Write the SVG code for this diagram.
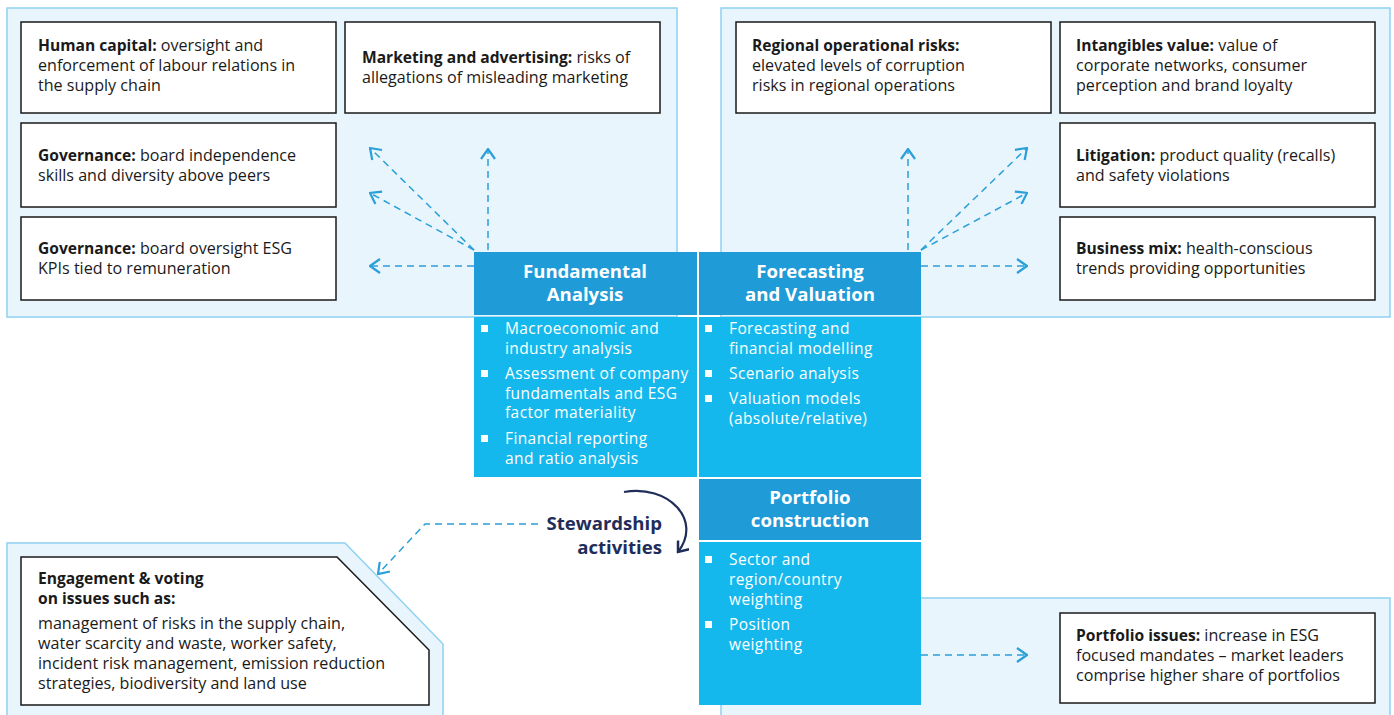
<svg xmlns="http://www.w3.org/2000/svg" width="1394" height="715" viewBox="0 0 1394 715">
<defs>
<style>
.panel{fill:#e8f5fd;stroke:#8fd1f1;stroke-width:1.5}
.box{fill:#fff;stroke:#1a1a1a;stroke-width:1.5}
.t{font-family:"Open Sans","Liberation Sans",Arial,sans-serif;font-size:16.1px;fill:#1a1a1a}
.b{font-weight:bold;font-size:15.6px}
.hd{fill:#1f9bd7}
.bd{fill:#14b8ec}
.ht{font-family:"Open Sans","Liberation Sans",Arial,sans-serif;font-size:18.6px;font-weight:bold;fill:#fff;text-anchor:middle}
.bt{font-family:"Open Sans","Liberation Sans",Arial,sans-serif;font-size:15.5px;letter-spacing:0.4px;fill:#fff}
.bul{fill:#fff}
.dash{fill:none;stroke:#2a9fd8;stroke-width:1.5;stroke-dasharray:7 5}
.st{font-family:"Open Sans","Liberation Sans",Arial,sans-serif;font-size:18.6px;font-weight:bold;fill:#1f2d5a;text-anchor:end}
</style>
<marker id="ah" viewBox="0 0 12 16" refX="11" refY="8" markerWidth="12" markerHeight="16" markerUnits="userSpaceOnUse" orient="auto">
<path d="M1 1 L11 8 L1 15" fill="none" stroke="#2a9fd8" stroke-width="2.2"/>
</marker>
<marker id="ahn" viewBox="0 0 12 16" refX="10" refY="8" markerWidth="12" markerHeight="16" markerUnits="userSpaceOnUse" orient="auto">
<path d="M1 1 L10 8 L1 15" fill="none" stroke="#1f2d5a" stroke-width="2.5"/>
</marker>
</defs>
<rect width="1394" height="715" fill="#fff"/>

<g id="panels">
<rect class="panel" x="7" y="8" width="670" height="309"/>
<rect class="panel" x="721" y="8" width="669" height="309"/>
<path class="panel" d="M7 715 L7 543 L345 543 L443 644 L443 715"/>
<path class="panel" d="M721 715 L721 598 L1390 598 L1390 715"/>
</g>

<g id="connectors">
<line class="dash" x1="488" y1="250" x2="488" y2="149" marker-end="url(#ah)"/>
<line class="dash" x1="474" y1="250" x2="370" y2="148" marker-end="url(#ah)"/>
<line class="dash" x1="474" y1="250" x2="370" y2="193" marker-end="url(#ah)"/>
<line class="dash" x1="474" y1="266" x2="370" y2="266" marker-end="url(#ah)"/>
<line class="dash" x1="908" y1="250" x2="908" y2="149" marker-end="url(#ah)"/>
<line class="dash" x1="921" y1="250" x2="1027" y2="148" marker-end="url(#ah)"/>
<line class="dash" x1="921" y1="250" x2="1027" y2="193" marker-end="url(#ah)"/>
<line class="dash" x1="921" y1="266" x2="1027" y2="266" marker-end="url(#ah)"/>
<line class="dash" x1="921" y1="655" x2="1027" y2="655" marker-end="url(#ah)"/>
<path class="dash" d="M538 524 L425 524 L378 574" marker-end="url(#ah)"/>
<path d="M624 492 C668 484 703 520 678 552" fill="none" stroke="#1f2d5a" stroke-width="2.2" marker-end="url(#ahn)"/>
</g>

<g id="human-capital">
<rect class="box" x="21" y="22" width="315" height="91"/>
<text class="t" x="38" y="51"><tspan class="b">Human capital:</tspan> oversight and</text>
<text class="t" x="38" y="71">enforcement of labour relations in</text>
<text class="t" x="38" y="91">the supply chain</text>
</g>
<g id="marketing">
<rect class="box" x="345" y="22" width="315" height="91"/>
<text class="t" x="362" y="63"><tspan class="b">Marketing and advertising:</tspan> risks of</text>
<text class="t" x="362" y="83">allegations of misleading marketing</text>
</g>
<g id="governance-1">
<rect class="box" x="21" y="123" width="315" height="84"/>
<text class="t" x="38" y="161"><tspan class="b">Governance:</tspan> board independence</text>
<text class="t" x="38" y="181">skills and diversity above peers</text>
</g>
<g id="governance-2">
<rect class="box" x="21" y="217" width="315" height="83"/>
<text class="t" x="38" y="254"><tspan class="b">Governance:</tspan> board oversight ESG</text>
<text class="t" x="38" y="274">KPIs tied to remuneration</text>
</g>

<g id="regional">
<rect class="box" x="736" y="22" width="315" height="91"/>
<text class="t b" x="752" y="51">Regional operational risks:</text>
<text class="t" x="752" y="71">elevated levels of corruption</text>
<text class="t" x="752" y="91">risks in regional operations</text>
</g>
<g id="intangibles">
<rect class="box" x="1060" y="22" width="315" height="91"/>
<text class="t" x="1076" y="51"><tspan class="b">Intangibles value:</tspan> value of</text>
<text class="t" x="1076" y="71">corporate networks, consumer</text>
<text class="t" x="1076" y="91">perception and brand loyalty</text>
</g>
<g id="litigation">
<rect class="box" x="1060" y="123" width="315" height="84"/>
<text class="t" x="1076" y="161"><tspan class="b">Litigation:</tspan> product quality (recalls)</text>
<text class="t" x="1076" y="181">and safety violations</text>
</g>
<g id="business-mix">
<rect class="box" x="1060" y="217" width="315" height="83"/>
<text class="t" x="1076" y="254"><tspan class="b">Business mix:</tspan> health-conscious</text>
<text class="t" x="1076" y="274">trends providing opportunities</text>
</g>

<g id="fundamental-analysis">
<rect class="hd" x="474" y="252" width="223" height="63"/>
<rect class="bd" x="474" y="317" width="223" height="160"/>
<text class="ht" x="585" y="278">Fundamental</text>
<text class="ht" x="585" y="301">Analysis</text>
<rect class="bul" x="481" y="325" width="7" height="7"/>
<text class="bt" x="505" y="334">Macroeconomic and</text>
<text class="bt" x="505" y="353.5">industry analysis</text>
<rect class="bul" x="481" y="370" width="7" height="7"/>
<text class="bt" x="505" y="379">Assessment of company</text>
<text class="bt" x="505" y="398.5">fundamentals and ESG</text>
<text class="bt" x="505" y="418">factor materiality</text>
<rect class="bul" x="481" y="435" width="7" height="7"/>
<text class="bt" x="505" y="444">Financial reporting</text>
<text class="bt" x="505" y="463.5">and ratio analysis</text>
</g>

<g id="forecasting-valuation">
<rect class="hd" x="699" y="252" width="222" height="63"/>
<rect class="bd" x="699" y="317" width="222" height="160"/>
<text class="ht" x="810" y="278">Forecasting</text>
<text class="ht" x="810" y="301">and Valuation</text>
<rect class="bul" x="705" y="325" width="7" height="7"/>
<text class="bt" x="729" y="334">Forecasting and</text>
<text class="bt" x="729" y="353.5">financial modelling</text>
<rect class="bul" x="705" y="370" width="7" height="7"/>
<text class="bt" x="729" y="379">Scenario analysis</text>
<rect class="bul" x="705" y="395" width="7" height="7"/>
<text class="bt" x="729" y="404">Valuation models</text>
<text class="bt" x="729" y="423.5">(absolute/relative)</text>
</g>

<g id="portfolio-construction">
<rect class="hd" x="699" y="479" width="222" height="61"/>
<rect class="bd" x="699" y="542" width="222" height="163"/>
<text class="ht" x="810" y="504">Portfolio</text>
<text class="ht" x="810" y="527">construction</text>
<rect class="bul" x="705" y="556" width="7" height="7"/>
<text class="bt" x="729" y="565">Sector and</text>
<text class="bt" x="729" y="585">region/country</text>
<text class="bt" x="729" y="605">weighting</text>
<rect class="bul" x="705" y="621" width="7" height="7"/>
<text class="bt" x="729" y="630">Position</text>
<text class="bt" x="729" y="650">weighting</text>
</g>

<g id="stewardship">
<text class="st" x="662" y="530">Stewardship</text>
<text class="st" x="662" y="554">activities</text>
</g>

<g id="engagement">
<path class="box" d="M21 557 L337 557 L429 650 L429 705 L21 705 Z"/>
<text class="t b" x="38" y="584">Engagement &amp; voting</text>
<text class="t b" x="38" y="604">on issues such as:</text>
<text class="t" x="38" y="629">management of risks in the supply chain,</text>
<text class="t" x="38" y="649">water scarcity and waste, worker safety,</text>
<text class="t" x="38" y="669">incident risk management, emission reduction</text>
<text class="t" x="38" y="689">strategies, biodiversity and land use</text>
</g>

<g id="portfolio-issues">
<rect class="box" x="1060" y="613" width="315" height="90"/>
<text class="t" x="1076" y="641"><tspan class="b">Portfolio issues:</tspan> increase in ESG</text>
<text class="t" x="1076" y="661">focused mandates – market leaders</text>
<text class="t" x="1076" y="681">comprise higher share of portfolios</text>
</g>
</svg>
